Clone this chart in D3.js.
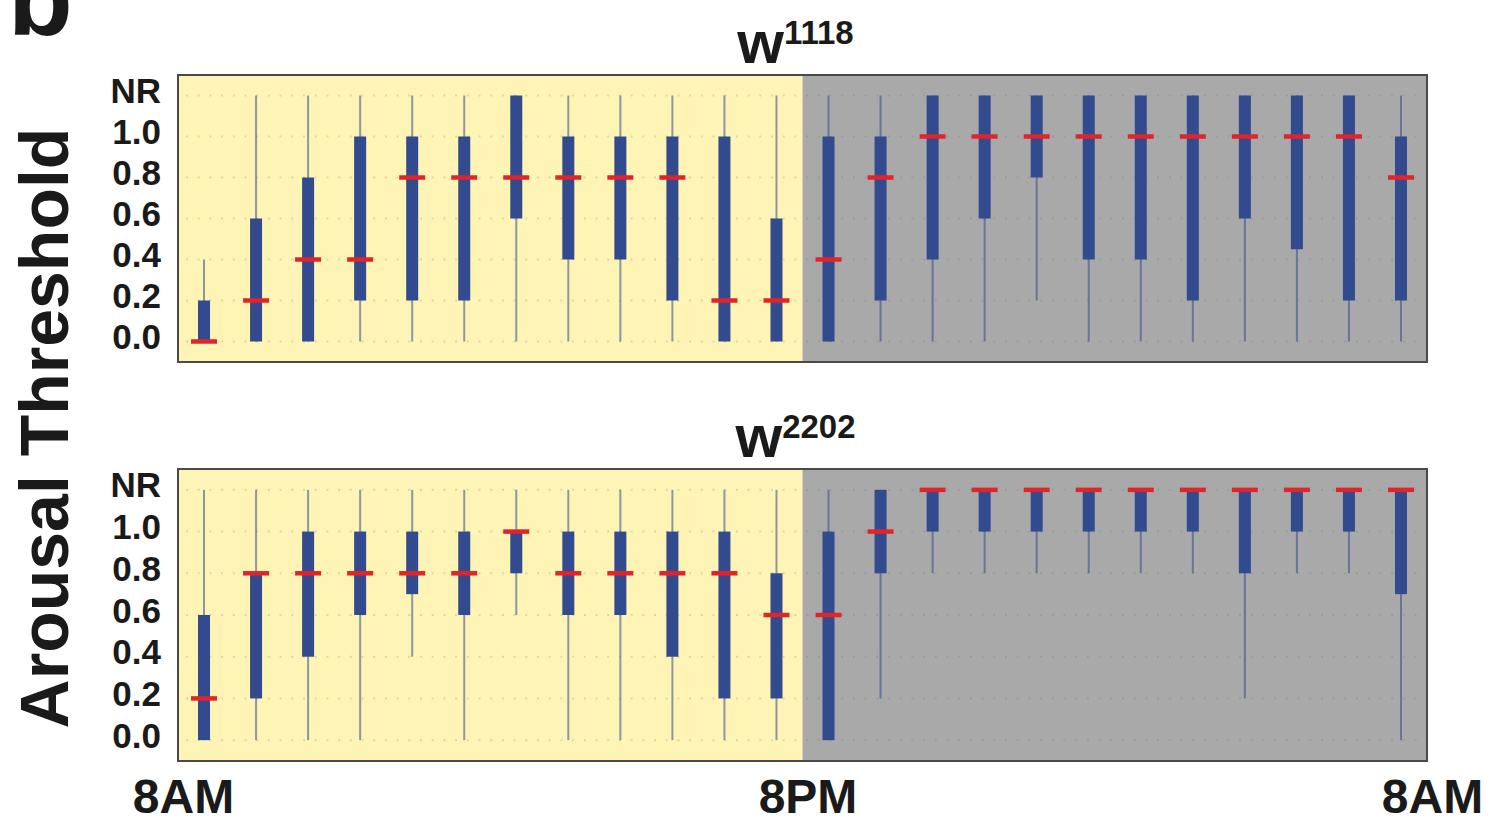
<!DOCTYPE html>
<html>
<head>
<meta charset="utf-8">
<script src="https://cdn.jsdelivr.net/npm/d3@7"></script>
<style>
	body { margin: 0; background: #fff; }
	svg text { font-family: "Liberation Sans", Arial, Helvetica, sans-serif; font-weight: bold; fill: #1a1a1a; }
</style>
</head>
<body>
<script>
// hourly bins from 8AM to 8AM, values on a 0-1 scale, 1.2 = NR (no response)
var yTickValues = [ 0, 0.2, 0.4, 0.6, 0.8, 1.0, 1.2 ];
var xTickHours = [ 0, 12, 24 ];
var xTickLabels = [ '8AM', '8PM', '8AM' ];

var w1118Lo  = [ 0, 0, 0, 0, 0, 0, 0, 0, 0, 0, 0, 0, 0, 0, 0, 0, 0.2, 0, 0, 0, 0, 0, 0, 0 ];
var w1118Q1  = [ 0, 0, 0, 0.2, 0.2, 0.2, 0.6, 0.4, 0.4, 0.2, 0, 0, 0, 0.2, 0.4, 0.6, 0.8, 0.4, 0.4, 0.2, 0.6, 0.45, 0.2, 0.2 ];
var w1118Med = [ 0, 0.2, 0.4, 0.4, 0.8, 0.8, 0.8, 0.8, 0.8, 0.8, 0.2, 0.2, 0.4, 0.8, 1.0, 1.0, 1.0, 1.0, 1.0, 1.0, 1.0, 1.0, 1.0, 0.8 ];
var w1118Q3  = [ 0.2, 0.6, 0.8, 1.0, 1.0, 1.0, 1.2, 1.0, 1.0, 1.0, 1.0, 0.6, 1.0, 1.0, 1.2, 1.2, 1.2, 1.2, 1.2, 1.2, 1.2, 1.2, 1.2, 1.0 ];
var w1118Hi  = [ 0.4, 1.2, 1.2, 1.2, 1.2, 1.2, 1.2, 1.2, 1.2, 1.2, 1.2, 1.2, 1.2, 1.2, 1.2, 1.2, 1.2, 1.2, 1.2, 1.2, 1.2, 1.2, 1.2, 1.2 ];

var w2202Lo  = [ 0, 0, 0, 0, 0.4, 0, 0.6, 0, 0, 0, 0, 0, 0, 0.2, 0.8, 0.8, 0.8, 0.8, 0.8, 0.8, 0.2, 0.8, 0.8, 0 ];
var w2202Q1  = [ 0, 0.2, 0.4, 0.6, 0.7, 0.6, 0.8, 0.6, 0.6, 0.4, 0.2, 0.2, 0, 0.8, 1.0, 1.0, 1.0, 1.0, 1.0, 1.0, 0.8, 1.0, 1.0, 0.7 ];
var w2202Med = [ 0.2, 0.8, 0.8, 0.8, 0.8, 0.8, 1.0, 0.8, 0.8, 0.8, 0.8, 0.6, 0.6, 1.0, 1.2, 1.2, 1.2, 1.2, 1.2, 1.2, 1.2, 1.2, 1.2, 1.2 ];
var w2202Q3  = [ 0.6, 0.8, 1.0, 1.0, 1.0, 1.0, 1.0, 1.0, 1.0, 1.0, 1.0, 0.8, 1.0, 1.2, 1.2, 1.2, 1.2, 1.2, 1.2, 1.2, 1.2, 1.2, 1.2, 1.2 ];
var w2202Hi  = [ 1.2, 1.2, 1.2, 1.2, 1.2, 1.2, 1.2, 1.2, 1.2, 1.2, 1.2, 1.2, 1.2, 1.2, 1.2, 1.2, 1.2, 1.2, 1.2, 1.2, 1.2, 1.2, 1.2, 1.2 ];

var colors = {
	day: '#fef4b6',
	night: '#a9a9a9',
	box: '#324a8e',
	median: '#e1242a',
	frame: '#4a4a4a'
};

var sizes = {
	width: 1499,
	height: 838,
	left: 178,
	right: 1427
};

var panels = [
	{ label: 'w', sup: '1118', top: 75, bottom: 362, lo: w1118Lo, q1: w1118Q1, med: w1118Med, q3: w1118Q3, hi: w1118Hi },
	{ label: 'w', sup: '2202', top: 469, bottom: 761, lo: w2202Lo, q1: w2202Q1, med: w2202Med, q3: w2202Q3, hi: w2202Hi }
];

var els = {};

els.svg = d3.select( 'body' ).append( 'svg' )
	.attr( 'width', sizes.width )
	.attr( 'height', sizes.height );

var scales = {};

scales.x = d3.scaleLinear()
	.domain( [ 0, 24 ] )
	.range( [ sizes.left, sizes.right ] );

// panel letter, cut at the top edge as in the figure
els.svg.append( 'text' )
	.attr( 'x', 8 )
	.attr( 'y', 35 )
	.style( 'font-size', '106px' )
	.text( 'b' );

els.svg.append( 'text' )
	.attr( 'transform', 'translate(68,428) rotate(-90)' )
	.attr( 'text-anchor', 'middle' )
	.style( 'font-size', '68px' )
	.text( 'Arousal Threshold' );

panels.forEach( function ( p ) {

	var y = d3.scaleLinear()
		.domain( [ -0.1, 1.3 ] )
		.range( [ p.bottom, p.top ] );

	var g = els.svg.append( 'g' );

	// light / dark halves
	g.append( 'rect' )
		.attr( 'x', scales.x( 0 ) )
		.attr( 'y', p.top )
		.attr( 'width', scales.x( 12 ) - scales.x( 0 ) )
		.attr( 'height', p.bottom - p.top )
		.style( 'fill', colors.day );

	g.append( 'rect' )
		.attr( 'x', scales.x( 12 ) )
		.attr( 'y', p.top )
		.attr( 'width', scales.x( 24 ) - scales.x( 12 ) )
		.attr( 'height', p.bottom - p.top )
		.style( 'fill', colors.night );

	// dotted grid
	g.selectAll( '.grid' )
		.data( yTickValues )
		.enter()
		.append( 'line' )
		.classed( 'grid', true )
		.attr( 'x1', scales.x( 0 ) + 8 )
		.attr( 'x2', scales.x( 24 ) )
		.attr( 'y1', function ( d ) { return y( d ); } )
		.attr( 'y2', function ( d ) { return y( d ); } )
		.style( 'stroke', '#5a6470' )
		.style( 'stroke-opacity', 0.2 )
		.style( 'stroke-width', 2 )
		.style( 'stroke-dasharray', '2,9.7' );

	var idx = d3.range( p.med.length );

	g.selectAll( '.whisker' )
		.data( idx )
		.enter()
		.append( 'line' )
		.classed( 'whisker', true )
		.attr( 'x1', function ( i ) { return scales.x( i + 0.5 ); } )
		.attr( 'x2', function ( i ) { return scales.x( i + 0.5 ); } )
		.attr( 'y1', function ( i ) { return y( p.lo[i] ); } )
		.attr( 'y2', function ( i ) { return y( p.hi[i] ); } )
		.style( 'stroke', colors.box )
		.style( 'stroke-opacity', 0.55 )
		.style( 'stroke-width', 2 );

	g.selectAll( '.box' )
		.data( idx )
		.enter()
		.append( 'rect' )
		.classed( 'box', true )
		.attr( 'x', function ( i ) { return scales.x( i + 0.5 ) - 6; } )
		.attr( 'y', function ( i ) { return y( p.q3[i] ); } )
		.attr( 'width', 12 )
		.attr( 'height', function ( i ) { return y( p.q1[i] ) - y( p.q3[i] ); } )
		.style( 'fill', colors.box );

	g.selectAll( '.median' )
		.data( idx )
		.enter()
		.append( 'line' )
		.classed( 'median', true )
		.attr( 'x1', function ( i ) { return scales.x( i + 0.5 ) - 13; } )
		.attr( 'x2', function ( i ) { return scales.x( i + 0.5 ) + 13; } )
		.attr( 'y1', function ( i ) { return y( p.med[i] ); } )
		.attr( 'y2', function ( i ) { return y( p.med[i] ); } )
		.style( 'stroke', colors.median )
		.style( 'stroke-width', 4.5 );

	g.append( 'rect' )
		.attr( 'x', scales.x( 0 ) )
		.attr( 'y', p.top )
		.attr( 'width', scales.x( 24 ) - scales.x( 0 ) )
		.attr( 'height', p.bottom - p.top )
		.style( 'fill', 'none' )
		.style( 'stroke', colors.frame )
		.style( 'stroke-width', 2 );

	var yAxis = d3.axisLeft( y )
		.tickValues( yTickValues )
		.tickSize( 0 )
		.tickPadding( 17 )
		.tickFormat( function ( d ) { return d > 1.1 ? 'NR' : d.toFixed( 1 ); } );

	var ax = g.append( 'g' )
		.attr( 'transform', 'translate(' + sizes.left + ',0)' )
		.call( yAxis );
	ax.select( '.domain' ).remove();
	ax.selectAll( 'text' )
		.attr( 'dy', '0.2em' )
		.style( 'font-size', '35px' )
		.style( 'font-family', '"Liberation Sans", Arial, sans-serif' )
		.style( 'font-weight', 'bold' )
		.style( 'fill', '#1a1a1a' );

	var title = g.append( 'text' )
		.attr( 'x', scales.x( 12 ) - 7 )
		.attr( 'y', p.top - 12 )
		.attr( 'text-anchor', 'middle' );
	title.append( 'tspan' )
		.style( 'font-size', '60px' )
		.text( p.label );
	title.append( 'tspan' )
		.attr( 'dy', -19 )
		.style( 'font-size', '33px' )
		.text( p.sup );

} );

var xAxis = d3.axisBottom( scales.x )
	.tickValues( xTickHours )
	.tickSize( 0 )
	.tickPadding( 0 )
	.tickFormat( function ( d, i ) { return xTickLabels[i]; } );

var xg = els.svg.append( 'g' )
	.attr( 'transform', 'translate(5,' + panels[1].bottom + ')' )
	.call( xAxis );
xg.select( '.domain' ).remove();
xg.selectAll( 'text' )
	.attr( 'y', 52 )
	.attr( 'dy', 0 )
	.style( 'font-size', '48px' )
	.style( 'font-family', '"Liberation Sans", Arial, sans-serif' )
	.style( 'font-weight', 'bold' )
	.style( 'fill', '#1a1a1a' );
</script>
</body>
</html>
